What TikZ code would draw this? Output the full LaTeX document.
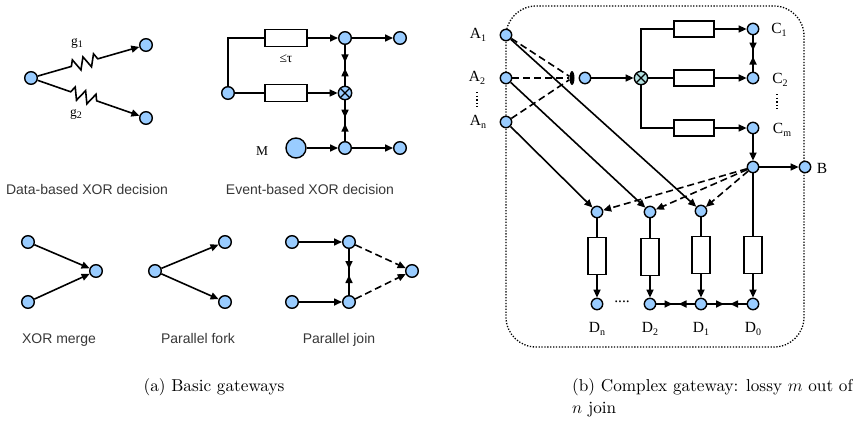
\documentclass[tikz,border=0pt]{standalone}
\usepackage{fontspec}
\usetikzlibrary{arrows.meta,decorations.pathmorphing,decorations.markings,shapes.geometric}
\newfontfamily\labsans{Liberation Sans}
\newfontfamily\labserif{Liberation Serif}
\newfontfamily\capserif{lmroman10-regular.otf}
\newcommand\lowidx[1]{\raisebox{-0.45ex}{\fontsize{10}{10}\selectfont #1}}
\definecolor{nodeblue}{RGB}{153,204,255}
\definecolor{xorteal}{RGB}{178,224,224}
\definecolor{captext}{RGB}{55,55,55}

\tikzset{
  Tri/.tip={Triangle[length=8pt,width=7pt]},
  line/.style={line width=1.6pt},
  arr/.style={line, -Tri},
  dsh/.style={dash pattern=on 7pt off 4pt},
  gnode/.style={circle, draw, line width=1.4pt, fill=nodeblue, minimum size=12.6pt, inner sep=0pt},
  snode/.style={gnode, minimum size=11.4pt},
  bignode/.style={gnode, minimum size=20pt},
  xorgate/.style={gnode, minimum size=13.4pt, path picture={\draw[line width=1.2pt]
     (path picture bounding box.south west) -- (path picture bounding box.north east)
     (path picture bounding box.north west) -- (path picture bounding box.south east);}},
  hbox/.style={draw, line width=1.4pt, fill=white, minimum width=42pt, minimum height=17pt, inner sep=0pt},
  hboxs/.style={hbox, minimum width=40pt, minimum height=16pt},
  vbox/.style={draw, line width=1.4pt, fill=white, minimum width=18pt, minimum height=37pt, inner sep=0pt},
  meet/.style={line, postaction=decorate, decoration={markings,
     mark=at position 0.5 with {\begin{scope}[xshift=-3pt]\arrow{Tri}\end{scope}},
     mark=at position 0.5 with {\begin{scope}[xshift=3pt]\arrowreversed{Tri}\end{scope}}}},
  guard/.style={decorate, decoration={zigzag, segment length=11pt, amplitude=6pt,
     pre length=35pt, post length=40pt}},
  gatecap/.style={font=\labsans\fontsize{14}{16}\selectfont, text=captext, anchor=base, inner sep=0pt},
  lab/.style={font=\labserif\fontsize{15.5}{17}\selectfont, inner sep=1pt},
  smalllab/.style={font=\labserif\fontsize{13.5}{15}\selectfont, inner sep=1pt},
  subcap/.style={font=\capserif\fontsize{17.2}{21}\selectfont, anchor=base west, inner sep=0pt},
  frame/.style={line width=1.3pt, dash pattern=on 1.3pt off 1.6pt, rounded corners=30pt},
  vdotsline/.style={line width=1.3pt, dash pattern=on 1.3pt off 2.3pt},
}

\begin{document}
\begin{tikzpicture}[x=1pt, y=-1pt]
\useasboundingbox (0,0) rectangle (853,421);

% ---------- Data-based XOR decision ----------
\node[gnode] (d0) at (31,78) {};
\node[gnode] (d1) at (146,45) {};
\node[gnode] (d2) at (146,118) {};
\draw[arr, guard] (d0) -- (d1);
\draw[arr, guard] (d0) -- (d2);
\node[smalllab] at (77,43) {g\lowidx{1}};
\node[smalllab] at (76,114) {g\lowidx{2}};
\node[gatecap] at (87,194) {Data-based XOR decision};

% ---------- Event-based XOR decision ----------
\node[gnode] (e0) at (228,93) {};
\node[hbox] (eb1) at (286,38) {};
\node[hbox] (eb2) at (286,93) {};
\node[gnode] (e1) at (345,38) {};
\node[xorgate] (ex) at (345,93) {};
\node[bignode] (em) at (296,148) {};
\node[gnode] (e2) at (345,148) {};
\node[gnode] (e3) at (400,38) {};
\node[gnode] (e4) at (400,148) {};
\draw[line] (e0) |- (eb1);
\draw[line] (e0) -- (eb2);
\draw[arr] (eb1) -- (e1);
\draw[arr] (eb2) -- (ex);
\draw[arr] (e1) -- (e3);
\draw[arr] (em) -- (e2);
\draw[arr] (e2) -- (e4);
\draw[meet] (e1) -- (ex);
\draw[meet] (ex) -- (e2);
\node[smalllab] at (286,59) {≤τ};
\node[smalllab] at (262,151) {M};
\node[gatecap] at (310,194) {Event-based XOR decision};

% ---------- XOR merge ----------
\node[gnode] (m1) at (28,242) {};
\node[gnode] (m2) at (28,302) {};
\node[gnode] (m3) at (96,271) {};
\draw[arr] (m1) -- (m3);
\draw[arr] (m2) -- (m3);
\node[gatecap] at (59,343) {XOR merge};

% ---------- Parallel fork ----------
\node[gnode] (f0) at (155,271) {};
\node[gnode] (f1) at (225,242) {};
\node[gnode] (f2) at (225,302) {};
\draw[arr] (f0) -- (f1);
\draw[arr] (f0) -- (f2);
\node[gatecap] at (198,343) {Parallel fork};

% ---------- Parallel join ----------
\node[gnode] (j1) at (292,242) {};
\node[gnode] (j2) at (292,302) {};
\node[gnode] (j3) at (349,242) {};
\node[gnode] (j4) at (349,302) {};
\node[gnode] (j5) at (412,271) {};
\draw[arr] (j1) -- (j3);
\draw[arr] (j2) -- (j4);
\draw[meet] (j3) -- (j4);
\draw[arr, dsh] (j3) -- (j5);
\draw[arr, dsh] (j4) -- (j5);
\node[gatecap] at (339,343) {Parallel join};

\node[subcap, anchor=base] at (214,391) {(a) Basic gateways};

% ---------- Complex gateway ----------
\draw[frame] (506,6) rectangle (804,347);

\node[snode] (A1) at (506,35) {};
\node[snode] (A2) at (506,78) {};
\node[snode] (An) at (506,122) {};
\node[lab] at (478,35) {A\lowidx{1}};
\node[lab] at (477,78) {A\lowidx{2}};
\node[lab] at (478,122) {A\lowidx{n}};
\draw[vdotsline] (477,92) -- (477,107);

\node[ellipse, fill=black, minimum width=5pt, minimum height=14pt, inner sep=0pt] (lens) at (572,78) {};
\node[snode] (g) at (585,78) {};
\node[xorgate, fill=xorteal] (x) at (641,78) {};

\node[hboxs] (c1b) at (694,29) {};
\node[hboxs] (c2b) at (694,78) {};
\node[hboxs] (cmb) at (694,128) {};
\node[snode] (C1) at (753,29) {};
\node[snode] (C2) at (753,78) {};
\node[snode] (Cm) at (753,128) {};
\node[lab] at (779,30) {C\lowidx{1}};
\node[lab] at (780,80) {C\lowidx{2}};
\node[lab] at (782,130) {C\lowidx{m}};
\draw[vdotsline] (777,94) -- (777,109);

\node[snode] (J) at (753,167) {};
\node[snode] (B) at (805,167) {};
\node[lab] at (822,168) {B};

\node[snode] (tn) at (597,212) {};
\node[snode] (t2) at (650,212) {};
\node[snode] (t1) at (701,211) {};
\node[vbox] (bn) at (597,256) {};
\node[vbox] (b2) at (650,257) {};
\node[vbox] (b1) at (701,255) {};
\node[vbox] (b0) at (753,255) {};
\node[snode] (Dn) at (597,304) {};
\node[snode] (D2) at (650,304) {};
\node[snode] (D1) at (701,304) {};
\node[snode] (D0) at (753,304) {};
\node[lab] at (597,329) {D\lowidx{n}};
\node[lab] at (650,329) {D\lowidx{2}};
\node[lab] at (701,329) {D\lowidx{1}};
\node[lab] at (753,329) {D\lowidx{0}};
\node[lab] at (622,302) {....};

% inputs to the lossy split
\draw[line, dsh] (A1) -- (lens);
\draw[line, dsh] (A2) -- (lens);
\draw[line, dsh] (An) -- (lens);
\draw[arr] (g) -- (x);

% event-based choice of the m branches
\draw[line] (x) |- (c1b);
\draw[line] (x) -- (c2b);
\draw[line] (x) |- (cmb);
\draw[arr] (c1b) -- (C1);
\draw[arr] (c2b) -- (C2);
\draw[arr] (cmb) -- (Cm);
\draw[meet] (C1) -- (C2);
\draw[arr] (Cm) -- (J);
\draw[arr] (J) -- (B);

% direct inputs to the D branches
\draw[arr] (A1) -- (t1);
\draw[arr] (A2) -- (t2);
\draw[arr] (An) -- (tn);
\draw[arr, dsh] (J) -- (tn);
\draw[arr, dsh] (J) -- (t2);
\draw[arr, dsh] (J) -- (t1);

\draw[line] (tn) -- (bn);
\draw[line] (t2) -- (b2);
\draw[line] (t1) -- (b1);
\draw[line] (J) -- (b0);
\draw[arr] (bn) -- (Dn);
\draw[arr] (b2) -- (D2);
\draw[arr] (b1) -- (D1);
\draw[arr] (b0) -- (D0);
\draw[meet] (D2) -- (D1);
\draw[meet] (D1) -- (D0);

\node[subcap] at (572,391) {(b) Complex gateway: lossy $m$ out of};
\node[subcap] at (572,413) {$n$ join};
\end{tikzpicture}
\end{document}
